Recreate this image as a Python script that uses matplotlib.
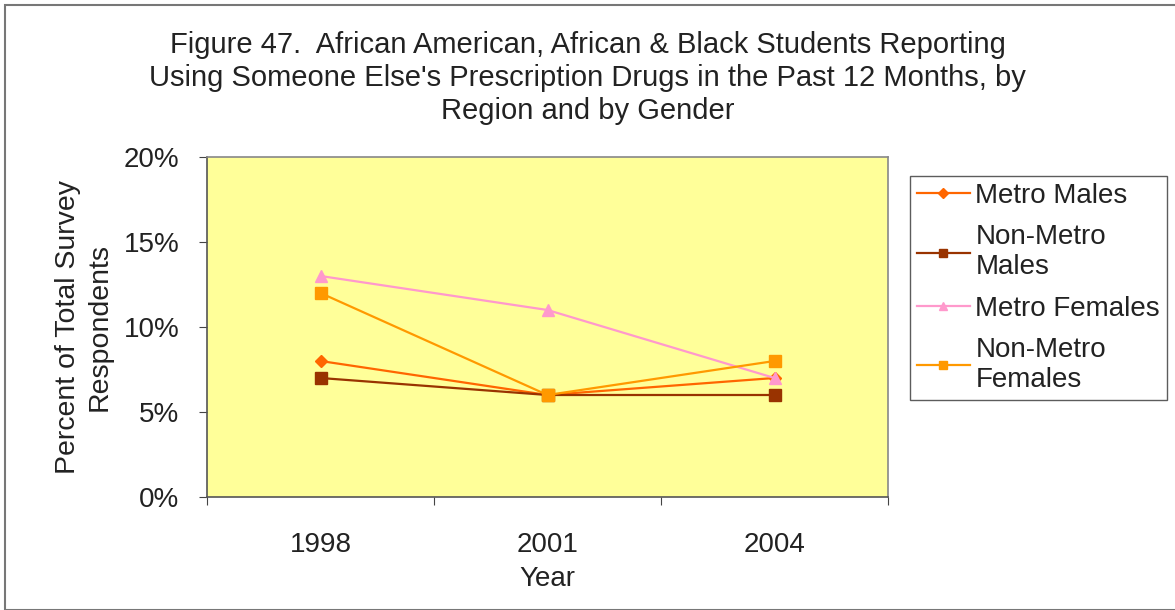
import matplotlib.pyplot as plt
from matplotlib.patches import Rectangle
from matplotlib.ticker import FixedLocator, FuncFormatter

plt.rcParams['font.family'] = ['Liberation Sans', 'DejaVu Sans']

# data
years = ['1998', '2001', '2004']
metro_males = [8, 6, 7]
nonmetro_males = [7, 6, 6]
metro_females = [13, 11, 7]
nonmetro_females = [12, 6, 8]

fig = plt.figure(figsize=(11.75, 6.1), dpi=100)
ax = fig.add_axes([207/1175, 1-497/610, 681/1175, 340/610])
ax.set_facecolor('#FFFF99')

x = range(len(years))
ax.plot(x, metro_males, color='#FF6600', marker='D', markersize=6, lw=1.6, label='Metro Males')
ax.plot(x, nonmetro_males, color='#993300', marker='s', markersize=8, lw=1.6, label='Non-Metro\nMales')
ax.plot(x, metro_females, color='#FF99CC', marker='^', markersize=8, lw=1.6, label='Metro Females')
ax.plot(x, nonmetro_females, color='#FF9900', marker='s', markersize=8, lw=1.6, label='Non-Metro\nFemales')

ax.set_xlim(-0.5, 2.5)
ax.set_ylim(0, 20)
ax.xaxis.set_major_locator(FixedLocator([-0.5, 0.5, 1.5, 2.5]))
ax.xaxis.set_major_formatter(FuncFormatter(lambda v, p: ''))
ax.xaxis.set_minor_locator(FixedLocator([0, 1, 2]))
ax.set_xticklabels(years, minor=True)
ax.tick_params(axis='x', which='minor', length=0, labelsize=20, pad=25, labelcolor='#222222')
ax.tick_params(axis='x', which='major', length=6, direction='out', color='#444444')
ax.set_yticks([0, 5, 10, 15, 20])
ax.yaxis.set_major_formatter(FuncFormatter(lambda v, p: '%d%%' % v))
ax.tick_params(axis='y', labelsize=20, length=6, direction='out', color='#444444', pad=14,
               labelcolor='#222222')

for side in ['top', 'right']:
    ax.spines[side].set_color('#888888')
for side in ['left', 'bottom']:
    ax.spines[side].set_color('#555555')
for s in ax.spines.values():
    s.set_linewidth(1.2)

ax.set_xlabel('Year', fontsize=20, labelpad=6, color='#222222')
ax.set_ylabel('Percent of Total Survey\nRespondents', fontsize=20.5, labelpad=8,
              color='#222222', linespacing=1.25)

fig.text(0.5, 1-78/610, "Figure 47.  African American, African & Black Students Reporting\n"
         "Using Someone Else's Prescription Drugs in the Past 12 Months, by\n"
         "Region and by Gender", ha='center', va='center', fontsize=21, linespacing=1.22,
         color='#222222')

leg = fig.legend(loc='upper left', bbox_to_anchor=(910/1175, 1-176/610), fontsize=20,
                 frameon=True, fancybox=False, edgecolor='#333333', handlelength=1.9,
                 handletextpad=0.2, borderpad=0.25, labelspacing=0.55, borderaxespad=0,
                 markerscale=0.8)
leg.get_frame().set_linewidth(1.0)
for t in leg.get_texts():
    t.set_color('#222222')

fig.patches.append(Rectangle((5/1175, 0), 1.0, 1-5/610, transform=fig.transFigure,
                             fill=False, edgecolor='#777777', lw=1.5))

fig.savefig('out.png', dpi=100)
